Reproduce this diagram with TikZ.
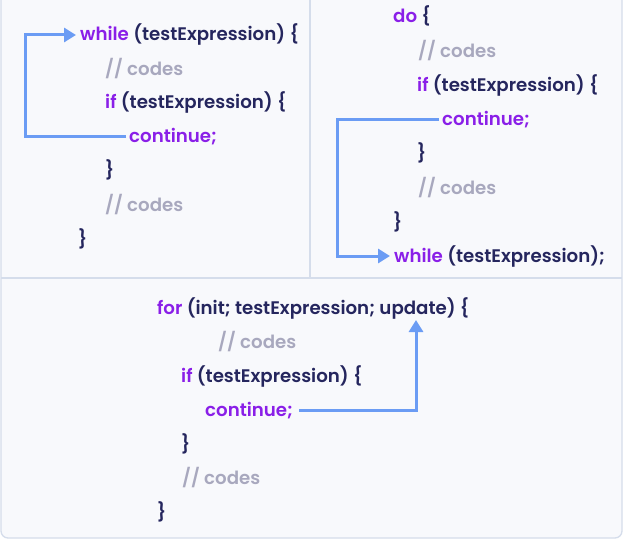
\documentclass[tikz,border=0pt]{standalone}
\usepackage{fontspec}
\setmainfont{Poppins}[BoldFont={Poppins SemiBold}]
\usetikzlibrary{arrows.meta}
\definecolor{bgc}{HTML}{F8F9FC}
\definecolor{framec}{HTML}{D5DDEB}
\definecolor{kw}{HTML}{8A1FE8}
\definecolor{txt}{HTML}{25265E}
\definecolor{cmt}{HTML}{A8A8BE}
\definecolor{arrc}{HTML}{6B9CF4}
\tikzset{
  code/.style={anchor=west, inner sep=0pt, text height=14pt, text depth=2pt, text=txt, font=\fontsize{18.2}{22}\selectfont\bfseries},
  arr/.style={draw=arrc, line width=3pt, -{Triangle[length=12pt,width=14pt]}},
  frame/.style={draw=framec, line width=1.3pt}
}
\newcommand{\kwd}[1]{\textcolor{kw}{#1}}
\newcommand{\cmtx}[1]{\textcolor{cmt}{#1}}
\begin{document}
\begin{tikzpicture}[x=1pt,y=-1pt]
\useasboundingbox (0,0) rectangle (623,540);
\fill[white] (0,0) rectangle (623,540);
\fill[bgc] (1,0) -- (1,531) arc[start angle=180,end angle=90,radius=7] -- (615,538) arc[start angle=90,end angle=0,radius=7] -- (622,0) -- cycle;
\draw[frame] (1,0) -- (1,531) arc[start angle=180,end angle=90,radius=7] -- (615,538) arc[start angle=90,end angle=0,radius=7] -- (622,0);
\draw[frame] (1,278) -- (622,278);
\draw[frame] (310,0) -- (310,278);
% top-left: while
\node[code] (w1) at (80,35) {\kwd{while} (testExpression) \{};
\node[code] (a1) at (105,70) {\cmtx{// codes}};
\node[code] (i1) at (105,103) {\kwd{if} (testExpression) \{};
\node[code] (c1) at (129,137) {\kwd{continue;}};
\node[code] (b1) at (105,171) {\}};
\node[code] (d1) at (105,205) {\cmtx{// codes}};
\node[code] (e1) at (78,239) {\}};
\coordinate (k1) at (25,35);
\draw[arr] ([xshift=-3pt]c1.west) -| (k1) -- ([xshift=-4pt]w1.west);
% top-right: do-while
\node[code] (o2) at (393,17) {\kwd{do} \{};
\node[code] (a2) at (418,52) {\cmtx{// codes}};
\node[code] (i2) at (417,86) {\kwd{if} (testExpression) \{};
\node[code] (c2) at (442,120) {\kwd{continue;}};
\node[code] (b2) at (417,154) {\}};
\node[code] (d2) at (418,188) {\cmtx{// codes}};
\node[code] (e2) at (393,222) {\}};
\node[code] (w2) at (394,256) {\kwd{while} (testExpression);};
\coordinate (k2) at (337,120);
\draw[arr] ([xshift=-3pt]c2.west) -- (k2) |- ([xshift=-4pt]w2.west);
% bottom: for
\node[code] (f3) at (157,308) {\kwd{for} (init; testExpression; update) \{};
\node[code] (a3) at (218,342) {\cmtx{// codes}};
\node[code] (i3) at (181,376) {\kwd{if} (testExpression) \{};
\node[code] (c3) at (205,410) {\kwd{continue;}};
\node[code] (b3) at (181,444) {\}};
\node[code] (d3) at (182,478) {\cmtx{// codes}};
\node[code] (e3) at (157,512) {\}};
\coordinate (k3) at (416,320);
\draw[arr] ([xshift=6pt]c3.east) -| (k3);
\end{tikzpicture}
\end{document}
